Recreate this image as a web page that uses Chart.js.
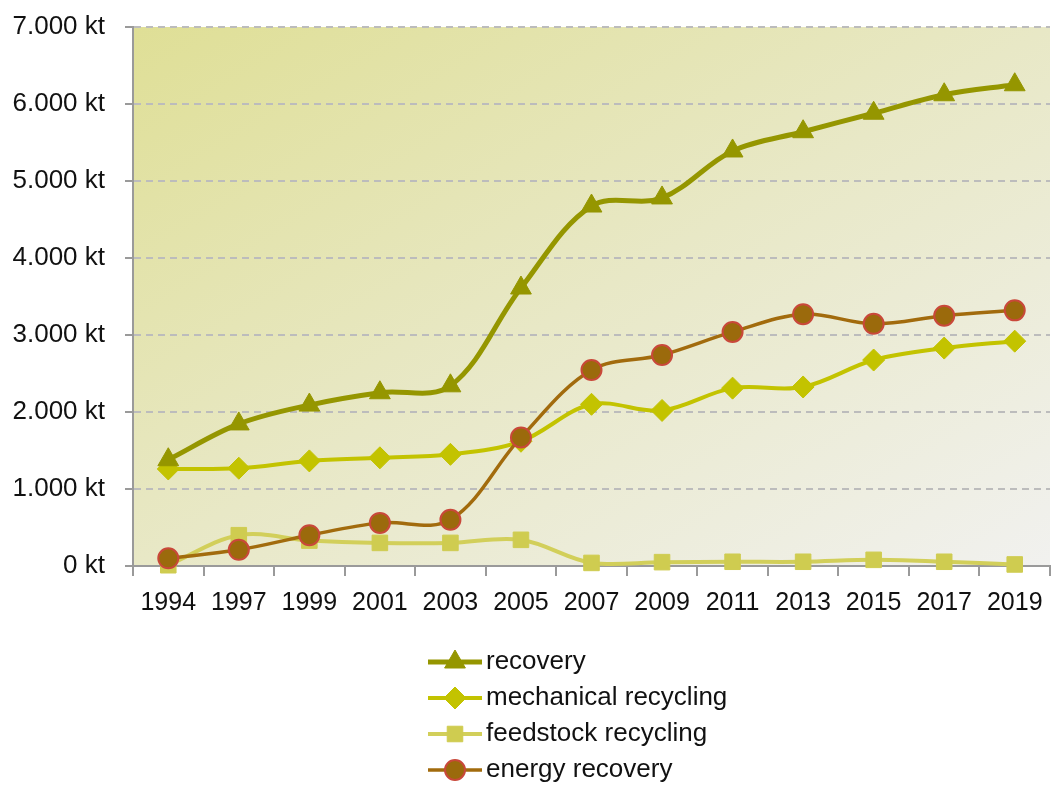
<!DOCTYPE html>
<html lang="en">
<head>
    <meta charset="utf-8">
    <title>Plastic recovery</title>
    <style>
        html, body { margin: 0; padding: 0; background: #fff; }
        .chartBox { width: 1051px; height: 785px; }
    </style>
</head>
<body>
    <div class="chartBox">
        <canvas id="myChart"></canvas>
    </div>
    <script src="https://cdn.jsdelivr.net/npm/chart.js/dist/chart.umd.min.js"></script>
    <script>
        // values in kt
        const years = ['1994', '1997', '1999', '2001', '2003', '2005', '2007', '2009', '2011', '2013', '2015', '2017', '2019'];
        const recovery = [1380, 1845, 2090, 2250, 2340, 3610, 4675, 4780, 5390, 5640, 5880, 6120, 6250];
        const mechanicalRecycling = [1260, 1270, 1365, 1405, 1450, 1620, 2100, 2020, 2310, 2325, 2675, 2830, 2920];
        const feedstockRecycling = [10, 400, 330, 300, 300, 340, 40, 50, 55, 55, 80, 55, 20];
        const energyRecovery = [100, 210, 400, 560, 600, 1670, 2545, 2740, 3040, 3270, 3145, 3250, 3320];

        const fontFamily = '"Liberation Sans", Arial, sans-serif';

        function fmtKt(v) {
            return String(v).replace(/\B(?=(\d{3})+(?!\d))/g, '.') + ' kt';
        }

        // corner-to-corner yellow -> grey background of the plot area
        const plotBackground = {
            id: 'plotBackground',
            beforeDraw(chart) {
                const { ctx, chartArea: a } = chart;
                ctx.save();
                ctx.translate(a.left, a.top);
                ctx.scale(a.right - a.left, a.bottom - a.top);
                const g = ctx.createLinearGradient(0, 0, 1, 1);
                g.addColorStop(0, '#dfdf96');
                g.addColorStop(0.5, '#e8e8c6');
                g.addColorStop(1, '#f1f1ef');
                ctx.fillStyle = g;
                ctx.fillRect(0, 0, 1, 1);
                ctx.restore();
            }
        };

        // vertical legend under the chart
        const stackedLegend = {
            id: 'stackedLegend',
            afterDraw(chart) {
                const ctx = chart.ctx;
                const x0 = 428, x1 = 482, textX = 486;
                let y = 662;
                chart.data.datasets.forEach(ds => {
                    ctx.save();
                    ctx.strokeStyle = ds.borderColor;
                    ctx.lineWidth = ds.borderWidth;
                    ctx.beginPath();
                    ctx.moveTo(x0, y);
                    ctx.lineTo(x1, y);
                    ctx.stroke();
                    ctx.fillStyle = ds.pointBackgroundColor;
                    ctx.strokeStyle = ds.pointBorderColor;
                    ctx.lineWidth = ds.pointBorderWidth;
                    Chart.helpers.drawPoint(ctx, {
                        pointStyle: ds.pointStyle,
                        radius: ds.pointRadius,
                        rotation: 0,
                        borderWidth: ds.pointBorderWidth
                    }, (x0 + x1) / 2, y);
                    ctx.font = '26px ' + fontFamily;
                    ctx.textBaseline = 'middle';
                    ctx.fillStyle = '#111';
                    ctx.fillText(ds.label, textX, y);
                    ctx.restore();
                    y += 36;
                });
            }
        };

        function series(label, values, line, fill, border, style, radius, width, order) {
            return {
                label: label,
                data: values,
                borderColor: line,
                borderWidth: width,
                pointStyle: style,
                pointRadius: radius,
                pointHoverRadius: radius,
                pointBackgroundColor: fill,
                pointBorderColor: border,
                pointBorderWidth: style === 'circle' ? 2 : 1,
                tension: 0.35,
                order: order,
                clip: false
            };
        }

        const data = {
            labels: years,
            datasets: [
                series('recovery', recovery, '#959600', '#959600', '#959600', 'triangle', 12, 5, 0),
                series('mechanical recycling', mechanicalRecycling, '#c3c300', '#c3c300', '#c3c300', 'rectRot', 11, 4, 2),
                series('feedstock recycling', feedstockRecycling, '#d2cf5a', '#cfcc50', '#cfcc50', 'rect', 11, 4, 3),
                series('energy recovery', energyRecovery, '#a26b0d', '#9b6a0c', '#c9483a', 'circle', 10, 3.5, 1)
            ]
        };

        const config = {
            type: 'line',
            data,
            plugins: [plotBackground, stackedLegend],
            options: {
                responsive: false,
                animation: false,
                layout: { autoPadding: false, padding: { top: 27, right: 1, left: 0, bottom: 0 } },
                plugins: {
                    legend: { display: false },
                    tooltip: { enabled: false }
                },
                scales: {
                    x: {
                        offset: true,
                        grid: {
                            offset: true,
                            drawOnChartArea: false,
                            color: '#9a9a9a',
                            lineWidth: 2,
                            tickLength: 10
                        },
                        border: { color: '#9a9a9a', width: 2 },
                        ticks: {
                            color: '#111',
                            padding: 12,
                            maxRotation: 0,
                            autoSkip: false,
                            font: { family: fontFamily, size: 25 }
                        },
                        afterFit(scale) {
                            scale.height = 219;
                            scale.paddingLeft = 0;
                            scale.paddingRight = 0;
                        }
                    },
                    y: {
                        min: 0,
                        max: 7000,
                        grid: {
                            color: '#bcbcbc',
                            lineWidth: 2,
                            tickLength: 8,
                            tickColor: '#9a9a9a',
                            tickBorderDash: []
                        },
                        border: { color: '#9a9a9a', width: 2, dash: [7, 5] },
                        ticks: {
                            stepSize: 1000,
                            color: '#111',
                            padding: 20,
                            font: { family: fontFamily, size: 26 },
                            callback: v => fmtKt(v)
                        },
                        afterFit(scale) {
                            scale.width = 133;
                            scale.paddingTop = 0;
                            scale.paddingBottom = 0;
                        }
                    }
                }
            }
        };

        const canvas = document.getElementById('myChart');
        canvas.width = 1051;
        canvas.height = 785;
        const myChart = new Chart(canvas, config);
    </script>
</body>
</html>
